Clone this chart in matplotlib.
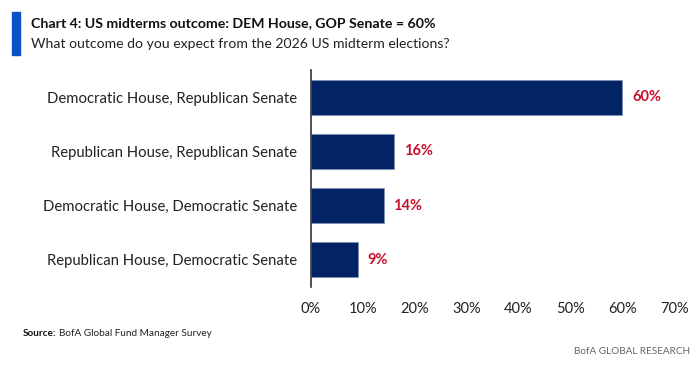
import matplotlib.pyplot as plt
import numpy as np

categories = ['Democratic House, Republican Senate',
              'Republican House, Republican Senate',
              'Democratic House, Democratic Senate',
              'Republican House, Democratic Senate']
values = [60, 16, 14, 9]
xticks = [0, 10, 20, 30, 40, 50, 60, 70]

plt.rcParams['font.family'] = ['Lato', 'DejaVu Sans']

fig = plt.figure(figsize=(7, 3.73), dpi=100)
ax = fig.add_axes([0.4443, 0.2306, 0.963 - 0.4443, 0.8123 - 0.2306])

y = np.arange(len(categories))
ax.barh(y, values, height=0.645, color='#022366', edgecolor='#7f8fb0', linewidth=0.4)
for yi, v in zip(y, values):
    ax.text(v + 1.9, yi, f'{v}%', va='center', ha='left', color='#c8102e',
            fontsize=10.5, fontweight='bold')

ax.set_ylim(3.5, -0.5)
ax.set_xlim(0, 70)
ax.set_yticks(y)
ax.set_yticklabels(categories, fontsize=10.7, color='#222222')
ax.set_xticks(xticks)
ax.set_xticklabels([f'{t}%' for t in xticks], fontsize=10.5, color='#222222')
ax.tick_params(length=0)
ax.tick_params(axis='y', pad=10)
ax.tick_params(axis='x', pad=11)
for s in ['top', 'right', 'bottom']:
    ax.spines[s].set_visible(False)
ax.spines['left'].set_color('#333333')
ax.spines['left'].set_linewidth(1.2)

# header
fig.patches.append(plt.Rectangle((12 / 700, 1 - 55 / 373), 8 / 700, 43 / 373,
                                 transform=fig.transFigure, color='#0a50c8'))
fig.text(31 / 700, 1 - 23 / 373, 'Chart 4: US midterms outcome: DEM House, GOP Senate = 60%',
         fontsize=10.2, fontweight='bold', color='#111111', va='center')
fig.text(31 / 700, 1 - 44 / 373, 'What outcome do you expect from the 2026 US midterm elections?',
         fontsize=10.1, color='#222222', va='center')

# footer
fig.text(23 / 700, 1 - 334 / 373, 'Source:', fontsize=7.2, fontweight='bold',
         color='#111111', va='center')
fig.text(59 / 700, 1 - 334 / 373, 'BofA Global Fund Manager Survey', fontsize=7.2,
         color='#222222', va='center')
fig.text(690 / 700, 1 - 351 / 373, 'BofA GLOBAL RESEARCH', fontsize=7.2,
         color='#666666', va='center', ha='right')

fig.savefig('out.png', dpi=100, facecolor='white')
